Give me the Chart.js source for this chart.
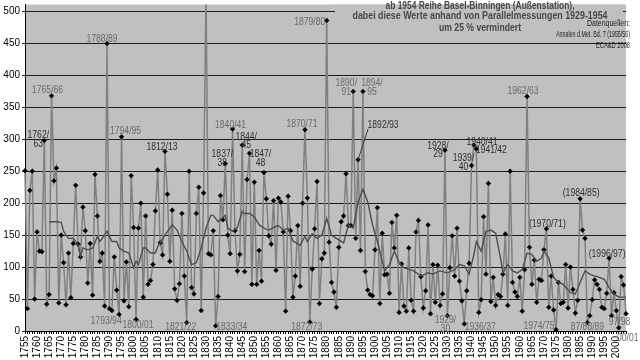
<!DOCTYPE html>
<html>
<head>
<meta charset="utf-8">
<script src="https://cdn.jsdelivr.net/npm/chart.js@4.4.1/dist/chart.umd.min.js"></script>
<style>
  html, body { margin: 0; padding: 0; background: #fff; }
  #wrap { width: 640px; height: 360px; }
</style>
</head>
<body>
<div id="wrap"><canvas id="snowChart"></canvas></div>
<script>
// winter values, one per winter, plotted at the year the winter ends (1755 = 1754/55)
const firstYear = 1755;
const winterValues = [
  251, 35, 220, 250, 50, 155, 125, 124, 298, 42,   // 1755-1764
  57, 368, 235, 255, 44, 150, 107, 41, 122, 52,    // 1765-1774
  137, 228, 136, 116, 194, 157, 75, 137, 56, 245,  // 1775-1784
  180, 109, 122, 39, 450, 35, 32, 116, 64, 26,     // 1785-1794
  304, 47, 108, 38, 243, 162, 18, 161, 200, 53,    // 1795-1804
  180, 73, 79, 104, 188, 252, 138, 119, 281, 214,  // 1805-1814
  109, 189, 66, 48, 74, 184, 86, 13, 250, 68,      // 1815-1824
  58, 184, 225, 32, 216, 530, 121, 119, 157, 8,    // 1825-1834
  54, 212, 174, 262, 150, 121, 316, 157, 94, 120,  // 1835-1844
  291, 93, 237, 278, 73, 233, 73, 126, 78, 248,    // 1845-1854
  207, 149, 136, 204, 95, 208, 202, 155, 31, 211,  // 1855-1864
  157, 53, 86, 165, 70, 200, 315, 208, 14, 97,     // 1865-1874
  160, 234, 43, 113, 122, 486, 139, 76, 61, 37,    // 1875-1884
  131, 171, 180, 246, 165, 165, 375, 145, 268, 126,// 1885-1894
  375, 93, 64, 57, 55, 127, 193, 43, 153, 88,      // 1895-1904
  89, 59, 170, 130, 181, 29, 105, 39, 31, 130,     // 1905-1914
  48, 31, 155, 173, 85, 36, 63, 166, 27, 104,      // 1915-1924
  45, 103, 40, 58, 283, 24, 99, 149, 86, 161,      // 1925-1934
  78, 47, 11, 63, 106, 259, 291, 285, 29, 49,      // 1935-1944
  179, 89, 231, 46, 84, 40, 57, 54, 89, 152,       // 1945-1954
  40, 250, 76, 61, 54, 84, 31, 96, 367, 131,       // 1955-1964
  73, 111, 45, 81, 79, 127, 160, 37, 86, 33,       // 1965-1974
  2, 76, 43, 45, 104, 36, 100, 65, 28, 48,         // 1975-1984
  207, 158, 145, 13, 24, 49, 80, 73, 65, 37,       // 1985-1994
  35, 59, 114, 24, 60, 32, 5, 85, 72, 27           // 1995-2004
];
const years = winterValues.map((_, i) => String(firstYear + i));

// smoothed curve at these years
const smoothYears = [1765, 1768, 1770, 1771, 1773, 1775, 1777, 1778, 1779, 1781, 1783, 1785, 1786, 1788, 1789,
  1791, 1793, 1794, 1796, 1798, 1800, 1801, 1802, 1804, 1805, 1807, 1809, 1810, 1813, 1816, 1818, 1820,
  1822, 1824, 1826, 1828, 1830, 1832, 1833, 1835, 1836, 1838, 1839, 1841, 1843, 1845, 1846, 1848, 1850,
  1852, 1854, 1856, 1858, 1860, 1862, 1864, 1866, 1869, 1871, 1872, 1874, 1876, 1878, 1880, 1882, 1884,
  1887, 1889, 1891, 1893, 1895, 1897, 1899, 1901, 1904, 1906, 1908, 1910, 1912, 1916, 1919, 1922, 1924,
  1927, 1930, 1933, 1935, 1937, 1939, 1941, 1942, 1944, 1946, 1948, 1950, 1952, 1953, 1955, 1957, 1959,
  1961, 1963, 1965, 1967, 1969, 1970, 1972, 1974, 1976, 1978, 1981, 1983, 1985, 1987, 1989, 1991, 1993,
  1995, 1997, 1999, 2001, 2004];
const smoothValues = [171, 171, 170, 156, 145, 145, 135, 117, 130, 127, 130, 148, 140, 150, 156,
  140, 140, 130, 125, 122, 99, 109, 104, 130, 130, 122, 122, 132, 150, 166, 158, 140,
  125, 104, 107, 130, 161, 181, 181, 171, 175, 181, 161, 156, 162, 187, 184, 184, 179,
  166, 161, 158, 162, 165, 158, 161, 141, 134, 148, 140, 152, 145, 150, 176, 150, 145,
  138, 166, 161, 202, 222, 202, 166, 140, 94, 104, 125, 107, 99, 94, 86, 91, 89,
  94, 91, 96, 104, 102, 89, 120, 140, 125, 156, 158, 153, 114, 91, 104, 94, 91,
  96, 122, 120, 109, 114, 125, 114, 84, 76, 73, 60, 58, 76, 94, 89, 86, 84,
  81, 68, 58, 53, 53];

const titleLines = [
  'ab 1954 Reihe Basel-Binningen (Außenstation),',
  'dabei diese Werte anhand von Parallelmessungen 1929-1954',
  'um 25 % vermindert'
];
const sourceLines = ['Datenquellen:', 'Annalen d.Met. Bd. 7 (1955/56)', 'ECA&D 2008'];

// labelled winters: text lines and the year of the point they belong to
const noteYears = [1763, 1766, 1789, 1795, 1813, 1794, 1801, 1822, 1838, 1834, 1841, 1845, 1848,
  1871, 1873, 1880, 1891, 1895, 1893, 1929, 1941, 1942, 1940, 1963, 1971, 1985, 1997,
  1930, 1937, 1975, 1988, 1998, 2001];
const noteTexts = [['1762/', '63'], ['1765/66'], ['1788/89'], ['1794/95'], ['1812/13'], ['1793/94'],
  ['1800/01'], ['1821/22'], ['1837/', '38'], ['1833/34'], ['1840/41'], ['1844/', '45'], ['1847/', '48'],
  ['1870/71'], ['1872/73'], ['1879/80'], ['1890/', '91'], ['1894/', '95'], ['1892/93'], ['1928/', '29'],
  ['1940/41'], ['1941/42'], ['1939/', '40'], ['1962/63'], ['(1970/71)'], ['(1984/85)'], ['(1996/97)'],
  ['1929/', '30'], ['1936/37'], ['1974/75'], ['87/88/89'], ['97/98'], ['00/01']];

// label placement (pixel offset from its point) and tone
const notePlace = [[-6, -5, 1], [-4, -6, 0], [-5, -4, 0], [4, -6, 0], [-3, -4, 1], [-13, 7, 0],
  [2, 6, 0], [-6, 5, 0], [-3, -9, 1], [16, 1, 0], [-2, -4, 0], [4, -8, 1], [11, 1, 1],
  [-3, -5, 0], [-3, 5, 0], [-17, 2, 0], [-7, -8, 0], [9, -8, 0], [25, -35, 1], [-7, -4, 1],
  [8, -3, 1], [15, 1, 1], [-8, -7, 1], [-4, -5, 0], [1, -5, 1], [1, -5, 1], [-2, -4, 1],
  [-2, 5, 0], [16, 3, 0], [-17, -3, 0], [0, 5, 0], [8, 7, 0], [9, 10, 0]];

const FONT = '"Liberation Sans", Arial, sans-serif';

const plotBackground = {
  id: 'plotBackground',
  beforeDraw(chart) {
    const { ctx, chartArea: a } = chart;
    ctx.save();
    ctx.fillStyle = '#c0c0c0';
    ctx.fillRect(a.left, a.top, a.right - a.left, a.bottom - a.top);
    ctx.restore();
  },
  beforeDatasetsDraw(chart) {
    // the title box hides the top grid line
    const { ctx, chartArea: a } = chart;
    ctx.save();
    ctx.fillStyle = '#c0c0c0';
    ctx.fillRect(335, a.top, a.right - 338, 12);
    ctx.restore();
  }
};

const chartTexts = {
  id: 'chartTexts',
  afterDatasetsDraw(chart) {
    const { ctx } = chart;
    const xs = chart.scales.x, ys = chart.scales.y;
    ctx.save();
    ctx.textBaseline = 'middle';

    ctx.textAlign = 'center';
    ctx.fillStyle = '#474747';
    ctx.font = 'bold 10px ' + FONT;
    const titleW = [189, 255, 82], titleY = [6, 16.5, 28];
    titleLines.forEach((t, i) => ctx.fillText(t, 480, titleY[i], titleW[i]));

    ctx.textAlign = 'right';
    ctx.fillStyle = '#1e1e1e';
    ctx.font = '8.5px ' + FONT;
    const srcW = [43, 74, 34], srcY = [24, 35, 46];
    sourceLines.forEach((t, i) => ctx.fillText(t, 630, srcY[i], srcW[i]));

    ctx.textAlign = 'center';
    ctx.font = '10px ' + FONT;
    noteYears.forEach((yr, i) => {
      const idx = yr - firstYear;
      const px = xs.getPixelForValue(idx);
      const py = ys.getPixelForValue(Math.min(winterValues[idx], 511));
      const [dx, dy, dark] = notePlace[i];
      ctx.fillStyle = dark ? '#2e2e2e' : '#6a6a6a';
      noteTexts[i].forEach((t, j) => {
        const w = ctx.measureText(t).width * 0.86;
        ctx.fillText(t, px + dx, py + dy + j * 8.5, w);
      });
      if (yr === 1893) {
        ctx.strokeStyle = '#3a3a3a';
        ctx.lineWidth = 1;
        ctx.beginPath();
        ctx.moveTo(px, py);
        ctx.lineTo(px + 10, py + dy + 4);
        ctx.stroke();
      }
    });
    ctx.restore();
  }
};

new Chart(document.getElementById('snowChart'), {
  type: 'line',
  data: {
    labels: years,
    datasets: [
      {
        label: 'Glättung',
        data: smoothYears.map((y, i) => ({ x: String(y), y: smoothValues[i] })),
        borderColor: '#4e4e4e',
        borderWidth: 1.4,
        pointRadius: 0,
        tension: 0,
        fill: false
      },
      {
        label: 'Winterwerte',
        data: winterValues,
        borderColor: '#808080',
        borderWidth: 1.5,
        pointStyle: 'rectRot',
        pointRadius: 2.4,
        pointBackgroundColor: '#000',
        pointBorderColor: '#000',
        pointBorderWidth: 0.5,
        tension: 0,
        fill: false
      }
    ]
  },
  options: {
    responsive: true,
    maintainAspectRatio: false,
    animation: false,
    events: [],
    layout: { padding: { top: 0, right: 8, bottom: 0, left: 0 } },
    plugins: {
      legend: { display: false },
      tooltip: { enabled: false }
    },
    scales: {
      x: {
        type: 'category',
        offset: false,
        afterFit(scale) { scale.height = 29; },
        grid: { display: true, drawOnChartArea: false, drawTicks: true, tickLength: 3, color: '#000' },
        border: { display: true, color: '#000', width: 1 },
        ticks: {
          autoSkip: false,
          minRotation: 90,
          maxRotation: 90,
          padding: 2,
          color: '#000',
          font: { family: FONT, size: 10 },
          callback: (v, i) => (Number(years[i]) % 5 === 0 ? years[i] : '')
        }
      },
      y: {
        min: 0,
        max: 511,
        afterFit(scale) {
          scale.width = 25;
          scale.paddingTop = 0;
          scale.paddingBottom = 0;
        },
        grid: { color: '#1c1c1c', lineWidth: 1, tickLength: 3 },
        border: { display: true, color: '#000', width: 1 },
        ticks: {
          stepSize: 50,
          includeBounds: false,
          padding: 2,
          color: '#000',
          font: { family: FONT, size: 10 }
        }
      }
    }
  },
  plugins: [plotBackground, chartTexts]
});
</script>
</body>
</html>
